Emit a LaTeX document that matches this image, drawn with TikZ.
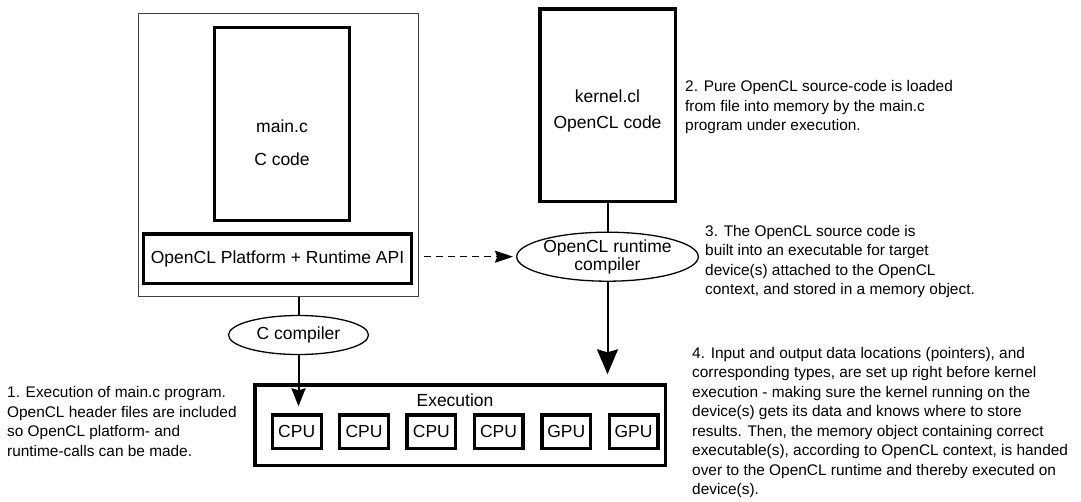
\documentclass[tikz,border=0pt]{standalone}
\usepackage{fontspec}
\setmainfont{Liberation Sans}
\usetikzlibrary{arrows.meta,shapes.geometric}
\begin{document}
\begin{tikzpicture}[x=1pt,y=-1pt,
  thickbox/.style={draw=black,line width=3.2pt,inner sep=0pt,rectangle},
  thinbox/.style={draw=black!75,line width=1pt,inner sep=0pt,rectangle},
  oval/.style={draw=black,line width=1.3pt,ellipse,inner sep=0pt,align=center,font=\fontsize{17.5}{18}\selectfont},
  lbl/.style={inner sep=0pt,font=\fontsize{17.5}{20}\selectfont},
  unit/.style={thickbox,minimum width=48.8pt,minimum height=33.5pt,font=\fontsize{17.5}{20}\selectfont},
  note/.style={inner sep=0pt,anchor=north west,align=left,font=\fontsize{15.4}{19.5}\selectfont},
  conn/.style={draw=black,line width=2pt},
]
\useasboundingbox (0,0) rectangle (1081,501);

% left side
\node[thinbox,minimum width=280.3pt,minimum height=283pt] (outer) at (278.35,154.7) {};
\node[thickbox,minimum width=134.5pt,minimum height=192.8pt] (mainc) at (281.85,123.7) {};
\node[lbl,anchor=base] (maincname) at (282,132) {main.c};
\node[lbl,anchor=base] (maincsub) at (282,165) {C code};
\node[thickbox,minimum width=268.4pt,minimum height=49.5pt,font=\fontsize{17.5}{20}\selectfont] (api) at (277.5,258.65) {OpenCL Platform + Runtime API};
\node[oval,minimum width=140pt,minimum height=39pt] (ccomp) at (298.5,335) {C compiler};

% right side
\node[thickbox,minimum width=135.2pt,minimum height=192.2pt] (kernel) at (607.5,105) {};
\node[lbl,anchor=base] (kernelname) at (607.5,102) {kernel.cl};
\node[lbl,anchor=base] (kernelsub) at (607.5,128) {OpenCL code};
\node[oval,minimum width=174pt,minimum height=49pt] (rtc) at (607.5,256.7) {OpenCL runtime\\compiler};

% execution
\node[thickbox,minimum width=410.2pt,minimum height=80.5pt] (exec) at (460,425.15) {};
\node[lbl,anchor=base] (execname) at (455,406) {Execution};
\node[unit] (u1) at (296.7,431.65) {CPU};
\node[unit] (u2) at (364.05,431.65) {CPU};
\node[unit] (u3) at (431.4,431.65) {CPU};
\node[unit] (u4) at (498.5,431.65) {CPU};
\node[unit] (u5) at (566.3,431.65) {GPU};
\node[unit] (u6) at (633.5,431.65) {GPU};

% connectors
\draw[conn] (ccomp.north) -- (ccomp.north |- outer.south);
\draw[conn,-{Stealth[length=18pt,width=14pt,inset=2pt]},shorten >=7pt] (ccomp.south) -- (ccomp.south |- u1.north);
\draw[conn] (kernel.south) -- (rtc.north);
\draw[conn,-{Stealth[length=25pt,width=21pt,inset=3pt]},shorten >=9pt] (rtc.south) -- (rtc.south |- exec.north);
\draw[line width=1.5pt,dash pattern=on 7pt off 5pt,-{Stealth[length=18pt,width=12pt,inset=2pt]},shorten <=11pt,shorten >=3pt] (rtc.west -| api.east) -- (rtc.west);

% notes
\node[note] (n1) at (7,386.5) {1. Execution of main.c program.\\OpenCL header files are included\\so OpenCL platform- and\\runtime-calls can be made.};
\node[note] (n2) at (685,80.5) {2. Pure OpenCL source-code is loaded\\from file into memory by the main.c\\program under execution.};
\node[note] (n3) at (705,224.8) {3. The OpenCL source code is\\built into an executable for target\\device(s) attached to the OpenCL\\context, and stored in a memory object.};
\node[note] (n4) at (692,346.8) {4. Input and output data locations (pointers), and\\corresponding types, are set up right before kernel\\execution - making sure the kernel running on the\\device(s) gets its data and knows where to store\\results. Then, the memory object containing correct\\executable(s), according to OpenCL context, is handed\\over to the OpenCL runtime and thereby executed on\\device(s).};
\end{tikzpicture}
\end{document}
